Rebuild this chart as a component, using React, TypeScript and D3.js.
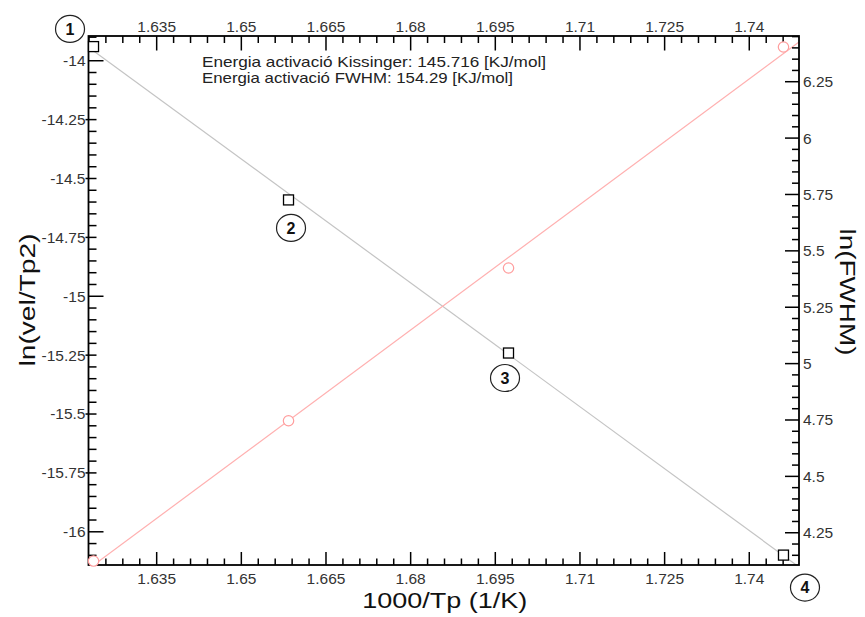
import React from "react";
import * as d3 from "d3";

// 1000/Tp for each run (shared by both fits)
const invTp = [1.62381, 1.65836, 1.69734, 1.74606];
// Kissinger: ln(vel/Tp^2)
const lnVelTp2 = [-13.94, -14.591, -15.241, -16.099];
// Peak width: ln(FWHM)
const lnFwhm = [4.1245, 4.7467, 5.4239, 6.4039];
// Point numbering
const pointLabels = ["1", "2", "3", "4"];

// Activation energies reported in the header [kJ/mol]
const eaKissinger = 145.716;
const eaFwhm = 154.29;
const R = 8.314;

const xTicks = [1.635, 1.65, 1.665, 1.68, 1.695, 1.71, 1.725, 1.74];
const yLeftTicks = [-14, -14.25, -14.5, -14.75, -15, -15.25, -15.5, -15.75, -16];
const yRightTicks = [4.25, 4.5, 4.75, 5, 5.25, 5.5, 5.75, 6, 6.25];

const W = 865;
const H = 617;
const L = 88.5, Rt = 799, T = 36, B = 565;

const x = d3.scaleLinear().domain([1.62292, 1.74881]).range([L, Rt]);
const yL = d3.scaleLinear().domain([-16.141, -13.895]).range([B, T]);
const yR = d3.scaleLinear().domain([4.107, 6.4527]).range([B, T]);

function minorValues(anchor: number, step: number, dom: number[], every: number) {
  const lo = Math.ceil((Math.min(dom[0], dom[1]) - anchor) / step - 1e-6);
  const hi = Math.floor((Math.max(dom[0], dom[1]) - anchor) / step + 1e-6);
  const out: number[] = [];
  for (let i = lo; i <= hi; i++) {
    if (((i % every) + every) % every === 0) continue;
    out.push(anchor + i * step);
  }
  return out;
}

// line through the centroid with slope set by Ea/R (x in 1000/K)
function fitLine(xs: number[], ys: number[], slope: number) {
  const mx = d3.mean(xs) as number;
  const my = d3.mean(ys) as number;
  const dom = x.domain();
  return dom.map((xv) => [xv, my + slope * (xv - mx)] as [number, number]);
}

const labelOffsets = [
  [-23.5, -17.7],
  [2.5, 28],
  [-3.5, 25],
  [21.5, 32.5],
];

export default function App() {
  const font = "'Liberation Sans', Arial, sans-serif";
  const tickColor = "#333";
  const xMinor = minorValues(1.635, 0.003, x.domain(), 5);
  const yLMinor = minorValues(-14, 0.05, yL.domain(), 5);
  const yRMinor = minorValues(6.25, 0.05, yR.domain(), 5);

  const kLine = fitLine(invTp, lnVelTp2, -eaKissinger / R);
  const fLine = fitLine(invTp, lnFwhm, eaFwhm / R);
  const lineL = d3.line<[number, number]>().x((d) => x(d[0])).y((d) => yL(d[1]));
  const lineR = d3.line<[number, number]>().x((d) => x(d[0])).y((d) => yR(d[1]));

  const tickW = 1.5;
  return (
    <svg
      width={W}
      height={H}
      style={{ position: "absolute", left: 0, top: 0, background: "#fff" }}
      fontFamily={font}
    >
      <defs>
        <clipPath id="plotClip">
          <rect x={L} y={T} width={Rt - L} height={B - T} />
        </clipPath>
      </defs>

      {/* fitted lines */}
      <g clipPath="url(#plotClip)">
        <path d={lineL(kLine) || ""} fill="none" stroke="#c4c4c4" strokeWidth={1.2} />
        <path d={lineR(fLine) || ""} fill="none" stroke="#ffb0b0" strokeWidth={1.2} />
      </g>

      {/* minor ticks */}
      <g stroke="#000" strokeWidth={tickW}>
        {xMinor.map((v, i) => (
          <g key={"xm" + i}>
            <line x1={x(v)} x2={x(v)} y1={B} y2={B - 6.5} />
            <line x1={x(v)} x2={x(v)} y1={T} y2={T + 7} />
          </g>
        ))}
        {yLMinor.map((v, i) => (
          <line key={"ylm" + i} x1={L} x2={L + 8} y1={yL(v)} y2={yL(v)} />
        ))}
        {yRMinor.map((v, i) => (
          <line key={"yrm" + i} x1={Rt} x2={Rt - 7} y1={yR(v)} y2={yR(v)} />
        ))}
        {/* major ticks */}
        {xTicks.map((v, i) => (
          <g key={"xM" + i}>
            <line x1={x(v)} x2={x(v)} y1={B} y2={B - 13} />
            <line x1={x(v)} x2={x(v)} y1={T} y2={T + 14.5} />
          </g>
        ))}
        {yLeftTicks.map((v, i) =>
          Number.isInteger(v) ? (
            <line key={"ylM" + i} x1={L} x2={L + 15} y1={yL(v)} y2={yL(v)} />
          ) : (
            <line key={"ylM" + i} x1={L - 3} x2={L + 8} y1={yL(v)} y2={yL(v)} />
          )
        )}
        {yRightTicks.map((v, i) => (
          <line key={"yrM" + i} x1={Rt} x2={Rt - 14} y1={yR(v)} y2={yR(v)} />
        ))}
      </g>

      {/* frame */}
      <rect x={L} y={T} width={Rt - L} height={B - T} fill="none" stroke="#000" strokeWidth={1.8} />

      {/* tick labels */}
      <g fontSize={15.5} fill={tickColor}>
        {xTicks.map((v, i) => (
          <g key={"xl" + i}>
            <text x={x(v)} y={583.5} textAnchor="middle">{String(v)}</text>
            <text x={x(v)} y={31.7} textAnchor="middle">{String(v)}</text>
          </g>
        ))}
        {yLeftTicks.map((v, i) => (
          <text key={"yll" + i} x={85.5} y={yL(v)} dy="0.35em" textAnchor="end">{String(v)}</text>
        ))}
        {yRightTicks.map((v, i) => (
          <text key={"yrl" + i} x={803} y={yR(v)} dy="0.35em" textAnchor="start">{String(v)}</text>
        ))}
      </g>

      {/* data markers */}
      {invTp.map((xv, i) => (
        <circle key={"c" + i} cx={x(xv)} cy={yR(lnFwhm[i])} r={5.2} fill="#fff" stroke="#ff9d9d" strokeWidth={1.2} />
      ))}
      {invTp.map((xv, i) => (
        <rect
          key={"s" + i}
          x={x(xv) - 5}
          y={yL(lnVelTp2[i]) - 5}
          width={10}
          height={10}
          fill="#fff"
          stroke="#000"
          strokeWidth={1.3}
        />
      ))}

      {/* point numbers */}
      {invTp.map((xv, i) => {
        const cx = x(xv) + labelOffsets[i][0];
        const cy = yL(lnVelTp2[i]) + labelOffsets[i][1];
        return (
          <g key={"n" + i}>
            <ellipse cx={cx} cy={cy} rx={14.5} ry={13.5} fill="#fff" stroke="#222" strokeWidth={1.2} />
            <text x={cx} y={cy} dy="0.36em" textAnchor="middle" fontSize={16} fontWeight="bold" fill="#111">
              {pointLabels[i]}
            </text>
          </g>
        );
      })}

      {/* activation energies */}
      <g fontSize={14.5} fill="#222">
        <text x={202} y={66.5} textLength={344} lengthAdjust="spacingAndGlyphs">
          {`Energia activació Kissinger: ${eaKissinger} [KJ/mol]`}
        </text>
        <text x={202} y={82.5} textLength={311} lengthAdjust="spacingAndGlyphs">
          {`Energia activació FWHM: ${eaFwhm} [KJ/mol]`}
        </text>
      </g>

      {/* axis titles */}
      <g fontSize={22} fill="#111">
        <text x={(L + Rt) / 2 + 1} y={608} textAnchor="middle" textLength={165} lengthAdjust="spacingAndGlyphs">
          1000/Tp (1/K)
        </text>
        <text
          transform={`translate(35,300) rotate(-90)`}
          textAnchor="middle"
          textLength={133}
          lengthAdjust="spacingAndGlyphs"
        >
          ln(vel/Tp2)
        </text>
        <text
          transform={`translate(840,292) rotate(90)`}
          textAnchor="middle"
          textLength={127}
          lengthAdjust="spacingAndGlyphs"
        >
          ln(FWHM)
        </text>
      </g>
    </svg>
  );
}
